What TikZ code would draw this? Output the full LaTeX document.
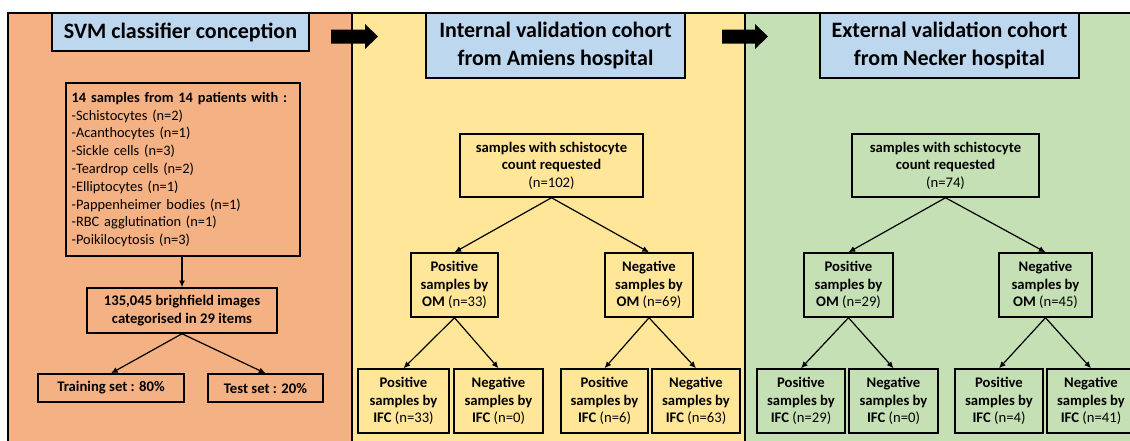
\documentclass[tikz,border=0pt]{standalone}
\usepackage{fontspec}
\setmainfont{Carlito}
\usetikzlibrary{arrows.meta}
\definecolor{pA}{HTML}{F4B183}
\definecolor{pB}{HTML}{FFE699}
\definecolor{pC}{HTML}{C5E0B4}
\definecolor{tb}{HTML}{BDD7EE}
\begin{document}
\begin{tikzpicture}[x=0.75pt,y=-0.75pt,
  panel/.style={draw=black,line width=1.5pt},
  ttl/.style 2 args={draw=black,fill=tb,line width=1.6pt,inner sep=0pt,align=center,
    font=\fontsize{16.5}{21}\selectfont\bfseries,minimum width=#1*0.75pt,minimum height=#2*0.75pt},
  bx/.style 2 args={draw=black,line width=1.1pt,inner sep=0pt,align=center,
    font=\fontsize{11}{13.2}\selectfont,minimum width=#1*0.75pt,minimum height=#2*0.75pt},
  arr/.style={-{Latex[length=5pt,width=4.5pt]},line width=0.9pt},
  bigarrow/.style={fill=black}]
\useasboundingbox (0,0) rectangle (1130,440);
\clip (0,0) rectangle (1130,440);
\fill[white] (0,0) rectangle (1130,440);
% panels
\fill[pA] (8,13) rectangle (352,470);
\fill[pB] (352,13) rectangle (745,470);
\fill[pC] (745,13) rectangle (1160,470);
\draw[panel] (8,470) -- (8,13) -- (1160,13);
\draw[panel] (352,13) -- (352,470);
\draw[panel] (745,13) -- (745,470);
% big arrows
\fill[bigarrow] (331,29.5) -- (365,29.5) -- (365,24) -- (378,36.5) -- (365,49) -- (365,43.5) -- (331,43.5) -- cycle;
\fill[bigarrow] (722,29.5) -- (755,29.5) -- (755,24) -- (768,36.5) -- (755,49) -- (755,43.5) -- (722,43.5) -- cycle;
% titles
\node[ttl={257}{38}] (t1) at (180.5,32) {SVM classifier conception};
\node[ttl={259}{65}] (t2) at (555.5,45.5) {Internal validation cohort\\from Amiens hospital};
\node[ttl={259}{65}] (t3) at (949.5,45.5) {External validation cohort\\from Necker hospital};
% panel 1
\node[bx={234}{173},align=left,text width=167pt,inner xsep=4.25pt,font=\fontsize{10.8}{13.35}\selectfont] (list) at (183,169.5)
 {\textbf{14 samples from 14 patients with :}\\
  -Schistocytes (n=2)\\
  -Acanthocytes (n=1)\\
  -Sickle cells (n=3)\\
  -Teardrop cells (n=2)\\
  -Elliptocytes (n=1)\\
  -Pappenheimer bodies (n=1)\\
  -RBC agglutination (n=1)\\
  -Poikilocytosis (n=3)};
\node[bx={190}{45},font=\fontsize{11}{13.35}\selectfont\bfseries] (img) at (182,310.5) {135,045 brighfield images\\categorised in 29 items};
\node[bx={146}{28},font=\fontsize{11}{13.35}\selectfont\bfseries] (train) at (111,388) {Training set : 80\%};
\node[bx={115}{28},font=\fontsize{11}{13.35}\selectfont\bfseries] (test) at (265.5,388) {Test set : 20\%};
\draw[arr] (list.south -| img.north) -- (img.north);
\draw[arr] (img.south) -- (train.north);
\draw[arr] (img.south) -- (test.north);
% panel 2
\node[bx={183}{63}] (a0) at (551.5,165.5) {\textbf{samples with schistocyte}\\\textbf{count requested}\\(n=102)};
\node[bx={87}{64}] (ap) at (454.5,285) {\textbf{Positive}\\\textbf{samples by}\\\textbf{OM} (n=33)};
\node[bx={88}{64}] (an) at (649,285) {\textbf{Negative}\\\textbf{samples by}\\\textbf{OM} (n=69)};
\node[bx={91}{64}] (a1) at (403.5,401) {\textbf{Positive}\\\textbf{samples by}\\\textbf{IFC} (n=33)};
\node[bx={89}{64}] (a2) at (498.5,401) {\textbf{Negative}\\\textbf{samples by}\\\textbf{IFC} (n=0)};
\node[bx={87}{64}] (a3) at (604.5,401) {\textbf{Positive}\\\textbf{samples by}\\\textbf{IFC} (n=6)};
\node[bx={88}{64}] (a4) at (696,401) {\textbf{Negative}\\\textbf{samples by}\\\textbf{IFC} (n=63)};
\draw[arr] (a0.south) -- (ap.north);
\draw[arr] (a0.south) -- (an.north);
\draw[arr] (ap.south) -- (a1.north);
\draw[arr] (ap.south) -- (a2.north);
\draw[arr] (an.south) -- (a3.north);
\draw[arr] (an.south) -- (a4.north);
% panel 3
\node[bx={187}{63}] (b0) at (945.5,165.5) {\textbf{samples with schistocyte}\\\textbf{count requested}\\(n=74)};
\node[bx={89}{64}] (bp) at (848.5,285) {\textbf{Positive}\\\textbf{samples by}\\\textbf{OM} (n=29)};
\node[bx={93}{64}] (bn) at (1045.5,285) {\textbf{Negative}\\\textbf{samples by}\\\textbf{OM} (n=45)};
\node[bx={88}{64}] (b1) at (801,401) {\textbf{Positive}\\\textbf{samples by}\\\textbf{IFC} (n=29)};
\node[bx={89}{64}] (b2) at (893.5,401) {\textbf{Negative}\\\textbf{samples by}\\\textbf{IFC} (n=0)};
\node[bx={88}{64}] (b3) at (999,401) {\textbf{Positive}\\\textbf{samples by}\\\textbf{IFC} (n=4)};
\node[bx={88}{64}] (b4) at (1091,401) {\textbf{Negative}\\\textbf{samples by}\\\textbf{IFC} (n=41)};
\draw[arr] (b0.south) -- (bp.north);
\draw[arr] (b0.south) -- (bn.north);
\draw[arr] (bp.south) -- (b1.north);
\draw[arr] (bp.south) -- (b2.north);
\draw[arr] (bn.south) -- (b3.north);
\draw[arr] (bn.south) -- (b4.north);
\end{tikzpicture}
\end{document}
